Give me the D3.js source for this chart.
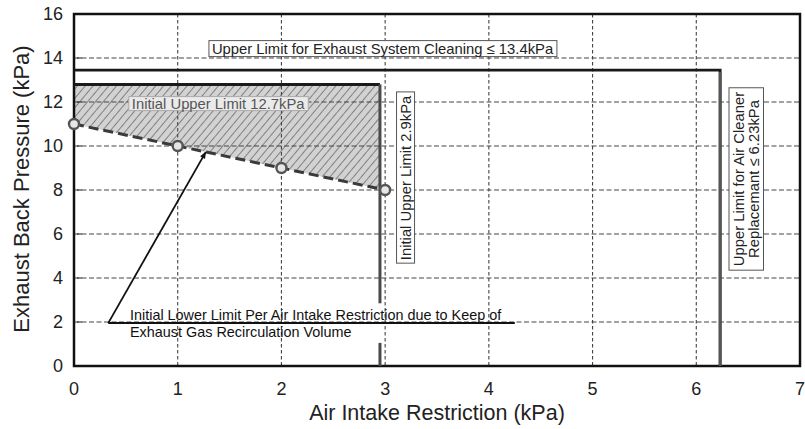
<!DOCTYPE html>
<html>
<head>
<meta charset="utf-8">
<script src="https://cdn.jsdelivr.net/npm/d3@7"></script>
<style>
  body { margin: 0; background: #fff; }
  svg { font-family: Arial, "Liberation Sans", sans-serif; }
</style>
</head>
<body>
<div id="chart"></div>
<script>
"use strict";

// axis ticks
const xTicks = [0, 1, 2, 3, 4, 5, 6, 7];
const yTicks = [0, 2, 4, 6, 8, 10, 12, 14, 16];
const xGrid = [1, 2, 3, 4, 5, 6];
const yGrid = [2, 4, 6, 8, 10, 12, 14];

// initial lower limit per air intake restriction
const lowerX = [0, 1, 2, 3];
const lowerY = [11, 10, 9, 8];

// limits
const cleaningLimitY = 13.45;   // upper limit for exhaust system cleaning
const airCleanerLimitX = 6.23;  // upper limit for air cleaner replacement
const initialUpperY = 12.8;     // initial upper limit 12.7kPa
const initialUpperX = 2.95;     // initial upper limit 2.9kPa

// annotation arrow (data units)
const arrowFrom = [0.33, 1.95];
const arrowTo = [1.27, 9.72];
const arrowTailEndX = 4.25;

const labels = {
    cleaning: "Upper Limit for Exhaust System Cleaning \u2264 13.4kPa",
    initialUpper: "Initial Upper Limit 12.7kPa",
    initialUpperX: "Initial Upper Limit 2.9kPa",
    airCleaner: ["Upper Limit for Air Cleaner", "Replacemant \u2264 6.23kPa"],
    lower: ["Initial Lower Limit Per Air Intake Restriction due to Keep of",
            "Exhaust Gas Recirculation Volume"],
    xTitle: "Air Intake Restriction (kPa)",
    yTitle: "Exhaust Back Pressure (kPa)"
};

const W = 805, H = 429;
const margin = {left: 74, right: 5, top: 14, bottom: 63};

const svg = d3.select("#chart").append("svg")
    .attr("width", W).attr("height", H);

const x = d3.scaleLinear().domain([0, 7]).range([margin.left, W - margin.right]);
const y = d3.scaleLinear().domain([0, 16]).range([H - margin.bottom, margin.top]);

// hatch pattern
const defs = svg.append("defs");
const pat = defs.append("pattern")
    .attr("id", "hatch")
    .attr("patternUnits", "userSpaceOnUse")
    .attr("width", 6).attr("height", 6)
    .attr("patternTransform", "rotate(40)");
pat.append("rect").attr("width", 6).attr("height", 6).attr("fill", "#d2d2d2");
pat.append("line")
    .attr("x1", 0).attr("y1", 0).attr("x2", 0).attr("y2", 6)
    .attr("stroke", "#666").attr("stroke-width", 1.5);

// hatched region between the lower line and the initial upper limits
const lowerAt = xv => lowerY[0] + (lowerY[3] - lowerY[0]) * xv / lowerX[3];
const region = [[0, initialUpperY], [initialUpperX, initialUpperY], [initialUpperX, lowerAt(initialUpperX)]]
    .concat(lowerX.slice().reverse().filter(v => v <= initialUpperX).map(v => [v, lowerAt(v)]));
svg.append("path")
    .attr("d", d3.line().x(d => x(d[0])).y(d => y(d[1]))(region) + "Z")
    .attr("fill", "url(#hatch)");

// grid
svg.append("g").selectAll("line").data(xGrid).join("line")
    .attr("x1", d => x(d)).attr("x2", d => x(d))
    .attr("y1", y(16)).attr("y2", y(0))
    .attr("stroke", "#444").attr("stroke-width", 1.1)
    .attr("stroke-dasharray", "3.5,2.5");
svg.append("g").selectAll("line").data(yGrid).join("line")
    .attr("x1", x(0)).attr("x2", x(7))
    .attr("y1", d => y(d)).attr("y2", d => y(d))
    .attr("stroke", "#444").attr("stroke-width", 1.2)
    .attr("stroke-dasharray", "5,2.5");

// small inner ticks on the y axis
svg.append("g").selectAll("line").data(yTicks).join("line")
    .attr("x1", x(0) + 3).attr("x2", x(0) + 8)
    .attr("y1", d => y(d)).attr("y2", d => y(d))
    .attr("stroke", "#222").attr("stroke-width", 1);

// frame
svg.append("rect")
    .attr("x", x(0)).attr("y", y(16))
    .attr("width", x(7) - x(0)).attr("height", y(0) - y(16))
    .attr("fill", "none").attr("stroke", "#111").attr("stroke-width", 2.5);

// limit for exhaust system cleaning + air cleaner replacement
svg.append("path")
    .attr("d", d3.line().x(d => x(d[0])).y(d => y(d[1]))(
        [[0, cleaningLimitY], [airCleanerLimitX, cleaningLimitY], [airCleanerLimitX, 0]]))
    .attr("fill", "none").attr("stroke", "#1a1a1a").attr("stroke-width", 2.8);
// lower part of the vertical in grey
svg.append("line")
    .attr("x1", x(airCleanerLimitX)).attr("x2", x(airCleanerLimitX))
    .attr("y1", y(cleaningLimitY) + 2).attr("y2", y(0))
    .attr("stroke", "#555").attr("stroke-width", 2.8);

// initial upper limit
svg.append("line")
    .attr("x1", x(0)).attr("x2", x(initialUpperX))
    .attr("y1", y(initialUpperY)).attr("y2", y(initialUpperY))
    .attr("stroke", "#1a1a1a").attr("stroke-width", 3);
svg.append("line")
    .attr("x1", x(initialUpperX)).attr("x2", x(initialUpperX))
    .attr("y1", y(initialUpperY)).attr("y2", y(2.85))
    .attr("stroke", "#4a4a4a").attr("stroke-width", 3);
svg.append("line")
    .attr("x1", x(initialUpperX)).attr("x2", x(initialUpperX))
    .attr("y1", y(1.05)).attr("y2", y(0))
    .attr("stroke", "#4a4a4a").attr("stroke-width", 3);

// lower limit dashed line + circles
svg.append("path")
    .attr("d", d3.line().x(d => x(d[0])).y(d => y(d[1]))(lowerX.map((v, i) => [v, lowerY[i]])))
    .attr("fill", "none").attr("stroke", "#3a3a3a").attr("stroke-width", 3)
    .attr("stroke-dasharray", "10,5");
svg.append("g").selectAll("circle").data(lowerX).join("circle")
    .attr("cx", d => x(d)).attr("cy", (d, i) => y(lowerY[i]))
    .attr("r", 5)
    .attr("fill", "#e6e6e6").attr("stroke", "#555").attr("stroke-width", 2.4);

// boxed label helper
function boxLabel(g, pad) {
    const b = g.node().getBBox();
    g.insert("rect", ":first-child")
        .attr("x", b.x - pad[0]).attr("y", b.y - pad[1])
        .attr("width", b.width + 2 * pad[0]).attr("height", b.height + 2 * pad[1]);
    return g.select("rect");
}

// cleaning limit label
const gClean = svg.append("g");
gClean.append("text")
    .attr("x", (x(1.29) + x(4.66)) / 2).attr("y", y(14.2))
    .attr("text-anchor", "middle")
    .style("font-size", "14.8px").attr("fill", "#222")
    .text(labels.cleaning);
boxLabel(gClean, [3, 0]).attr("fill", "#fff").attr("stroke", "#555").attr("stroke-width", 1);

// initial upper limit 12.7 label
const gInit = svg.append("g");
gInit.append("text")
    .attr("x", (x(0.54) + x(2.24)) / 2).attr("y", y(11.7))
    .attr("text-anchor", "middle")
    .style("font-size", "14.8px").attr("fill", "#555")
    .text(labels.initialUpper);
boxLabel(gInit, [3, -1]).attr("fill", "#eaeaea").attr("stroke", "#aaa").attr("stroke-width", 1);

// initial upper limit 2.9 (vertical)
const gInitX = svg.append("g")
    .attr("transform", `translate(${x(3.195)},${(y(12.5) + y(4.6)) / 2}) rotate(-90)`);
gInitX.append("text")
    .attr("x", 0).attr("y", 0).attr("dy", "0.35em")
    .attr("text-anchor", "middle")
    .style("font-size", "14.8px").attr("fill", "#222")
    .text(labels.initialUpperX);
boxLabel(gInitX, [3, 1]).attr("fill", "#fff").attr("stroke", "#555").attr("stroke-width", 1);

// air cleaner limit (vertical, two lines)
const gAir = svg.append("g")
    .attr("transform", `translate(${x(6.48)},${(y(12.8) + y(4.2)) / 2}) rotate(-90)`);
gAir.selectAll("text").data(labels.airCleaner).join("text")
    .attr("x", 0).attr("y", (d, i) => (i - 0.5) * 14.5).attr("dy", "0.35em")
    .attr("text-anchor", "middle")
    .style("font-size", "14.8px").attr("fill", "#222")
    .text(d => d);
boxLabel(gAir, [4, 2]).attr("fill", "#fff").attr("stroke", "#555").attr("stroke-width", 1);

// annotation: arrow + underline + text
defs.append("marker")
    .attr("id", "arrow")
    .attr("viewBox", "0 0 10 10")
    .attr("refX", 9).attr("refY", 5)
    .attr("markerWidth", 8).attr("markerHeight", 7)
    .attr("markerUnits", "userSpaceOnUse")
    .attr("orient", "auto")
    .append("path").attr("d", "M0,1 L10,5 L0,9 Z").attr("fill", "#111");
svg.append("line")
    .attr("x1", x(arrowFrom[0])).attr("y1", y(arrowFrom[1]))
    .attr("x2", x(arrowTo[0])).attr("y2", y(arrowTo[1]))
    .attr("stroke", "#111").attr("stroke-width", 1.8)
    .attr("marker-end", "url(#arrow)");
svg.append("line")
    .attr("x1", x(arrowFrom[0])).attr("x2", x(arrowTailEndX))
    .attr("y1", y(arrowFrom[1])).attr("y2", y(arrowFrom[1]))
    .attr("stroke", "#111").attr("stroke-width", 2);
svg.append("g").selectAll("text").data(labels.lower).join("text")
    .attr("x", x(0.54)).attr("y", (d, i) => y(arrowFrom[1]) - 3 + i * 16.5)
    .style("font-size", "14.4px").attr("fill", "#111")
    .text(d => d);

// tick labels
svg.append("g").selectAll("text").data(xTicks).join("text")
    .attr("x", d => x(d)).attr("y", y(0) + 29)
    .attr("text-anchor", "middle")
    .style("font-size", "18px").attr("fill", "#222")
    .text(d => d);
svg.append("g").selectAll("text").data(yTicks).join("text")
    .attr("x", x(0) - 11).attr("y", d => y(d)).attr("dy", "0.35em")
    .attr("text-anchor", "end")
    .style("font-size", "18px").attr("fill", "#222")
    .text(d => d);

// axis titles
svg.append("text")
    .attr("x", 437).attr("y", H - 9)
    .attr("text-anchor", "middle")
    .style("font-size", "21.5px").attr("fill", "#222")
    .text(labels.xTitle);
svg.append("text")
    .attr("transform", `translate(29,${(y(0) + y(16)) / 2 - 1}) rotate(-90)`)
    .attr("text-anchor", "middle")
    .style("font-size", "22px").attr("fill", "#222")
    .text(labels.yTitle);
</script>
</body>
</html>
